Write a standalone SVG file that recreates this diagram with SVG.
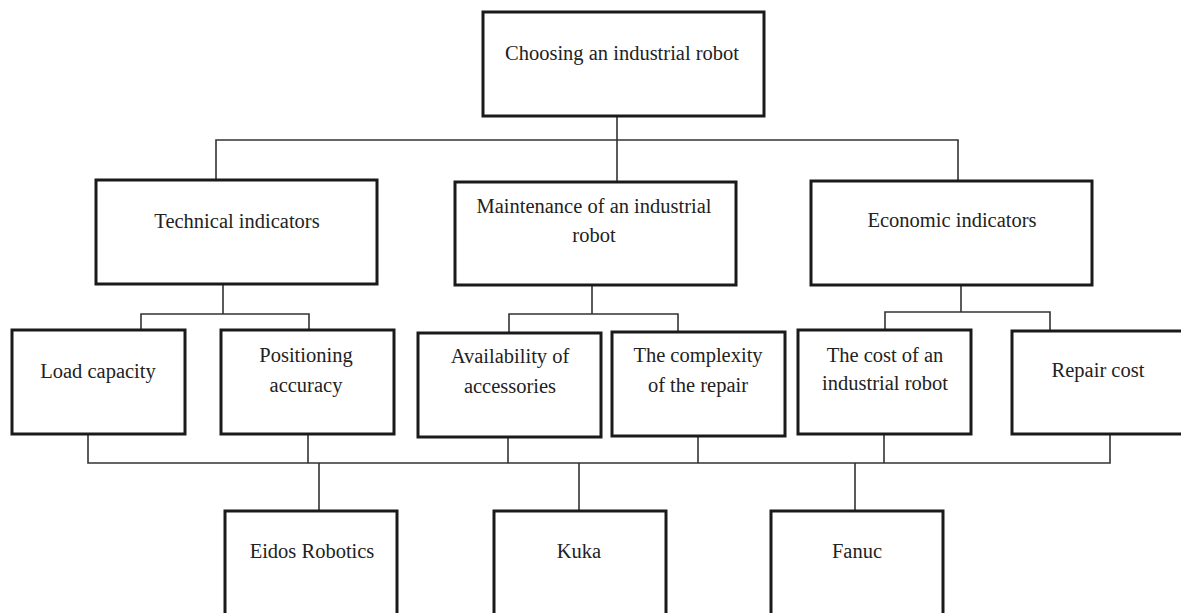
<svg xmlns="http://www.w3.org/2000/svg" width="1181" height="613" viewBox="0 0 1181 613">
<style>
.box{fill:#fff;stroke:#1a1a1a;stroke-width:3}
.lbl{font-family:"Liberation Serif","Times New Roman",serif;font-size:20.5px;fill:#222;text-anchor:middle}
.conn{fill:none;stroke:#333;stroke-width:1.6}
</style>
<rect width="1181" height="613" fill="#fff"/>
<g id="connectors">
<path class="conn" d="M617 116V140M216 180V140H958V181M617 140V182"/>
<path class="conn" d="M223 284V314M141 330V314H309V330"/>
<path class="conn" d="M592 285V314M509 333V314H678V332"/>
<path class="conn" d="M961 285V312M885 330V312H1050V331"/>
<path class="conn" d="M88 434V463H1110V434M308 434V463M508 437V463M698 436V463M884 434V463"/>
<path class="conn" d="M319 463V511M579 463V511M855 463V511"/>
</g>
<g id="root"><rect class="box" x="483" y="12" width="281" height="104"/><text class="lbl" x="622" y="60">Choosing an industrial robot</text></g>
<g id="technical"><rect class="box" x="96" y="180" width="281" height="104"/><text class="lbl" x="237" y="228">Technical indicators</text></g>
<g id="maintenance"><rect class="box" x="455" y="182" width="281" height="103"/><text class="lbl" x="594" y="213">Maintenance of an industrial</text><text class="lbl" x="594" y="242">robot</text></g>
<g id="economic"><rect class="box" x="811" y="181" width="281" height="104"/><text class="lbl" x="952" y="227">Economic indicators</text></g>
<g id="load"><rect class="box" x="12" y="330" width="173" height="104"/><text class="lbl" x="98" y="378">Load capacity</text></g>
<g id="positioning"><rect class="box" x="221" y="330" width="173" height="104"/><text class="lbl" x="306" y="362">Positioning</text><text class="lbl" x="306" y="392">accuracy</text></g>
<g id="availability"><rect class="box" x="418" y="333" width="183" height="104"/><text class="lbl" x="510" y="363">Availability of</text><text class="lbl" x="510" y="393">accessories</text></g>
<g id="complexity"><rect class="box" x="612" y="332" width="173" height="104"/><text class="lbl" x="698" y="362">The complexity</text><text class="lbl" x="698" y="392">of the repair</text></g>
<g id="cost"><rect class="box" x="798" y="330" width="173" height="104"/><text class="lbl" x="885" y="362">The cost of an</text><text class="lbl" x="885" y="390">industrial robot</text></g>
<g id="repair"><rect class="box" x="1012" y="331" width="180" height="103"/><text class="lbl" x="1098" y="377">Repair cost</text></g>
<g id="eidos"><rect class="box" x="225" y="511" width="172" height="120"/><text class="lbl" x="312" y="558">Eidos Robotics</text></g>
<g id="kuka"><rect class="box" x="494" y="511" width="172" height="120"/><text class="lbl" x="579" y="558">Kuka</text></g>
<g id="fanuc"><rect class="box" x="771" y="511" width="172" height="120"/><text class="lbl" x="857" y="558">Fanuc</text></g>
</svg>
